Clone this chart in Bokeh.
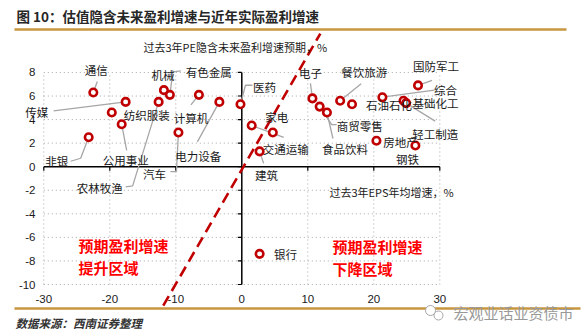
from bokeh.plotting import figure
from bokeh.models import Range1d, ColumnDataSource
from bokeh.core.properties import value
from bokeh.embed import file_html
from bokeh.resources import INLINE

# ---------------- data ----------------
industries = ["通信", "传媒", "纺织服装", "公用事业", "非银", "机械", "有色金属", "农林牧渔",
              "计算机", "汽车", "电力设备", "医药", "交通运输", "家电", "建筑", "电子",
              "商贸零售", "食品饮料", "餐饮旅游", "石油石化", "综合", "国防军工", "基础化工",
              "轻工制造", "房地产", "钢铁", "银行"]
eps_growth = [-22.5, -17.6, -19.7, -18.2, -23.2, -11.8, -10.9, -12.6,
              -6.5, -9.6, -3.4, -0.2, 1.5, 4.7, 2.7, 10.7,
              11.8, 12.9, 14.9, 16.7, 21.3, 26.7, 24.5,
              24.9, 20.4, 26.3, 2.7]
pe_implied_growth = [6.3, 5.5, 4.6, 3.6, 2.5, 6.5, 6.1, 5.5,
                     6.1, 2.9, 5.5, 5.3, 3.5, 2.9, 1.3, 5.8,
                     5.1, 4.6, 5.6, 5.3, 5.9, 6.9, 5.6,
                     5.4, 2.2, 1.8, -7.4]
x_ticks = [-30, -20, -10, 0, 10, 20, 30]
x_tick_labels = ["-30", "-20", "-10", "0", "10", "20", "30"]
y_ticks = [8, 6, 4, 2, 0, -2, -4, -6, -8, -10]
y_tick_labels = ["8", "6", "4", "2", "0", "-2", "-4", "-6", "-8", "-10"]
divider_x = [-11.9, 11.9]
divider_y = [-11.8, 11.3]

# ---------------- layout (pixels) ----------------
W, H = 587, 336
X0, SX = 241.3, 6.6      # px of x=0, px per unit
Y0, SY = 166.2, 11.78    # px of y=0, px per unit

def dx(px):
    return (px - X0) / SX

def dy(py):
    return (Y0 - py) / SY

# label offsets (px) relative to each point, and leader polylines (px, rel. to point)
label_off = {
    "通信": (3, -22), "传媒": (-89, 10), "纺织服装": (35, 2), "公用事业": (4, 36),
    "非银": (-32, 24), "机械": (-1, -15), "有色金属": (39, -23), "农林牧渔": (-59, 86),
    "计算机": (-8, 23), "汽车": (-24, 41), "电力设备": (-21, 54), "医药": (24, -17),
    "交通运输": (34, 24), "家电": (4, -16), "建筑": (7, 24), "电子": (-2, -25),
    "商贸零售": (40, 19), "食品饮料": (18, 36), "餐饮旅游": (24, -29), "石油石化": (37, 1),
    "综合": (63, -7), "国防军工": (18, -19), "基础化工": (32, 2), "轻工制造": (29, 31),
    "房地产": (24, 1), "钢铁": (-8, 14), "银行": (26, 0),
}
leaders = {
    "通信": [(4, -11), (0, 0)],
    "传媒": [(-72, 9), (0, 0)],
    "公用事业": [(5, 26), (0, 0)],
    "非银": [(-18, 24), (-8, 21), (0, 0)],
    "有色金属": [(11, -24), (3, -23), (0, 0)],
    "农林牧渔": [(-33, 85), (-26, 84), (0, 0)],
    "计算机": [(-8, 10), (0, 0)],
    "汽车": [(-8, 39), (-2, 39), (0, 0)],
    "电力设备": [(-22, 40), (0, 0)],
    "医药": [(12, -19), (5, -19), (0, 0)],
    "交通运输": [(32, 12), (0, 0)],
    "建筑": [(4, 12), (0, 0)],
    "电子": [(-2, -15), (0, 0)],
    "商贸零售": [(17, 18), (12, 18), (0, 0)],
    "食品饮料": [(6, 26), (0, 0)],
    "餐饮旅游": [(21, -17), (0, 0)],
    "综合": [(52, -7), (0, 0)],
    "国防军工": [(14, -5), (0, 0)],
    "轻工制造": [(29, 18), (0, 0)],
}

CJK = value("Noto Sans CJK SC")
NUM = value("Liberation Sans")
RED = "#C00000"
GOLD = "#C8963E"

p = figure(width=W, height=H, output_backend="svg", toolbar_location=None,
           x_range=Range1d(dx(0), dx(W)), y_range=Range1d(dy(H), dy(0)),
           x_axis_location=None, y_axis_location=None, min_border=0)
p.grid.visible = False
p.outline_line_color = None
p.background_fill_color = "white"

# grid lines (dotted)
gx0, gx1 = x_ticks[0], x_ticks[-1]
gy0, gy1 = y_ticks[-1], y_ticks[0]
p.multi_line(xs=[[gx0, gx1] for y in y_ticks if y != 0], ys=[[y, y] for y in y_ticks if y != 0],
             line_color="#A6A6A6", line_width=1, line_dash="1 3")
p.multi_line(xs=[[x, x] for x in x_ticks if x != 0], ys=[[gy0, gy1] for x in x_ticks if x != 0],
             line_color="#A6A6A6", line_width=1, line_dash="1 3")

# axes through origin
p.line([gx0, gx1], [0, 0], line_color="black", line_width=1.5)
p.line([0, 0], [gy0, gy1], line_color="black", line_width=1.5)
p.multi_line(xs=[[x, x] for x in x_ticks], ys=[[0, -4 / SY] for x in x_ticks],
             line_color="black", line_width=1.2)
p.multi_line(xs=[[-4 / SX, 0] for y in y_ticks], ys=[[y, y] for y in y_ticks],
             line_color="black", line_width=1.2)

# tick labels
p.text(x=x_ticks, y=[dy(298)] * len(x_ticks), text=x_tick_labels, text_font=NUM,
       text_font_size=value("11.5px"), text_align="center", text_baseline="middle",
       text_color="#1a1a1a")
p.text(x=[dx(35)] * len(y_ticks), y=y_ticks, text=y_tick_labels, text_font=NUM,
       text_font_size=value("11.5px"), text_align="right", text_baseline="middle",
       text_color="#1a1a1a")

# dashed divider
p.line(divider_x, divider_y, line_color=RED, line_width=2.6, line_dash="11 6")

# leaders
lx, ly = [], []
for name, pts in leaders.items():
    i = industries.index(name)
    lx.append([eps_growth[i] + a / SX for a, b in pts])
    ly.append([pe_implied_growth[i] - b / SY for a, b in pts])
p.multi_line(xs=lx, ys=ly, line_color="#A6A6A6", line_width=1.3)

# points
src = ColumnDataSource(dict(
    x=eps_growth, y=pe_implied_growth, name=industries,
    ox=[label_off[n][0] for n in industries], oy=[label_off[n][1] for n in industries]))
p.scatter("x", "y", source=src, marker="circle", size=7.5, fill_color="white",
          line_color=RED, line_width=2.6)
p.text("x", "y", text="name", source=src, x_offset="ox", y_offset="oy", text_font=CJK,
       text_font_size=value("11.5px"), text_align="center", text_baseline="middle",
       text_color="#1a1a1a")

# axis titles
p.text(x=[dx(143)], y=[dy(46)], text=["过去3年PE隐含未来盈利增速预期，%"], text_font=CJK,
       text_font_size=value("11px"), text_align="left", text_baseline="middle",
       text_color="#1a1a1a")
p.text(x=[dx(329)], y=[dy(191)], text=["过去3年EPS年均增速，%"], text_font=CJK,
       text_font_size=value("11px"), text_align="left", text_baseline="middle",
       text_color="#1a1a1a")

# region annotations
p.text(x=[dx(78)] * 2 + [dx(332)] * 2, y=[dy(245), dy(267), dy(246), dy(268)],
       text=["预期盈利增速", "提升区域", "预期盈利增速", "下降区域"], text_font=CJK,
       text_font_size=value("15px"), text_font_style="bold", text_align="left",
       text_baseline="middle", text_color="#FF0000")

# header / footer
p.text(x=[dx(16)], y=[dy(15)], text=["图 10：估值隐含未来盈利增速与近年实际盈利增速"], text_font=CJK,
       text_font_size=value("13.5px"), text_font_style="bold", text_align="left",
       text_baseline="middle", text_color="#262626")
p.line([dx(14), dx(566)], [dy(29), dy(29)], line_color=GOLD, line_width=2.5)
p.line([dx(14), dx(580)], [dy(308), dy(308)], line_color=GOLD, line_width=2.5)
p.text(x=[dx(15)], y=[dy(322)], text=["数据来源：西南证券整理"], text_font=CJK,
       text_font_size=value("11.5px"), text_font_style="bold italic", text_align="left",
       text_baseline="middle", text_color="#333333")

# watermark
p.scatter(x=[dx(430), dx(438)], y=[dy(310), dy(315)], marker="circle", size=[10, 9],
          fill_color="white", line_color="#A6A6A6", line_width=1)
p.text(x=[dx(453)], y=[dy(312)], text=["宏观业话业资债市"], text_font=CJK,
       text_font_size=value("15px"), text_align="left", text_baseline="middle",
       text_color="#999999")

open("out.html", "w").write(file_html(p, INLINE))
